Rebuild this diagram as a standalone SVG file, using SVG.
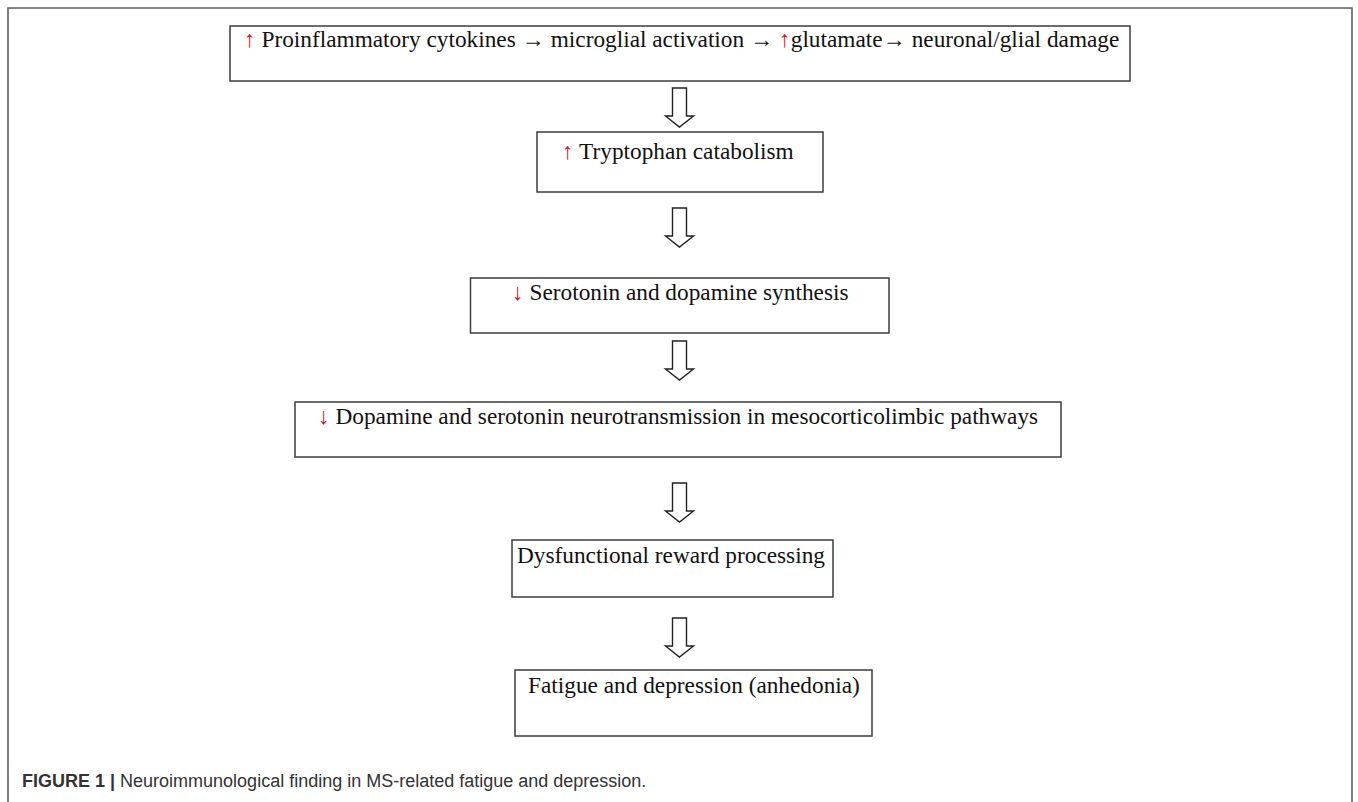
<svg xmlns="http://www.w3.org/2000/svg" width="1358" height="802" viewBox="0 0 1358 802">
<style>
.frame{fill:none;stroke:#5a5a5a;stroke-width:1.5}
.box{fill:#fff;stroke:#3c3c3c;stroke-width:1.5}
.t{font-family:"Liberation Serif","Times New Roman",serif;font-size:23.3px;fill:#111}
.red{fill:#d8141a}
.arr{fill:#fff;stroke:#222;stroke-width:1.4;stroke-linejoin:miter}
.cap{font-family:"Liberation Sans Narrow","Liberation Sans",Arial,sans-serif;font-size:18px;fill:#333}
</style>
<defs>
<path id="blk" d="M-7,0 H7 V28 H14 L0,39 L-14,28 H-7 Z"/>
</defs>
<rect width="1358" height="802" fill="#fff"/>
<path class="frame" d="M8,810 V8 H1352 V810"/>
<g id="connectors">
<use href="#blk" class="arr" x="679.5" y="88"/>
<use href="#blk" class="arr" x="679.5" y="208"/>
<use href="#blk" class="arr" x="679.5" y="341"/>
<use href="#blk" class="arr" x="679.5" y="483"/>
<use href="#blk" class="arr" x="679.5" y="618"/>
</g>
<g id="n1">
<rect class="box" x="230" y="26" width="900" height="55"/>
<text class="t" x="244" y="47"><tspan class="red">↑</tspan> Proinflammatory cytokines → microglial activation → <tspan class="red">↑</tspan>glutamate→ neuronal/glial damage</text>
</g>
<g id="n2">
<rect class="box" x="537" y="132" width="286" height="60"/>
<text class="t" x="562" y="159"><tspan class="red">↑</tspan> Tryptophan catabolism</text>
</g>
<g id="n3">
<rect class="box" x="470.5" y="278" width="418.5" height="55"/>
<text class="t" x="512" y="300"><tspan class="red">↓</tspan> Serotonin and dopamine synthesis</text>
</g>
<g id="n4">
<rect class="box" x="295" y="402" width="766" height="55"/>
<text class="t" x="318" y="424"><tspan class="red">↓</tspan> Dopamine and serotonin neurotransmission in mesocorticolimbic pathways</text>
</g>
<g id="n5">
<rect class="box" x="512" y="540" width="321" height="57"/>
<text class="t" x="517" y="563">Dysfunctional reward processing</text>
</g>
<g id="n6">
<rect class="box" x="515" y="670" width="357" height="66"/>
<text class="t" x="528" y="693">Fatigue and depression (anhedonia)</text>
</g>
<text class="cap" x="22" y="787"><tspan font-weight="bold">FIGURE 1 |</tspan> Neuroimmunological finding in MS-related fatigue and depression.</text>
</svg>
